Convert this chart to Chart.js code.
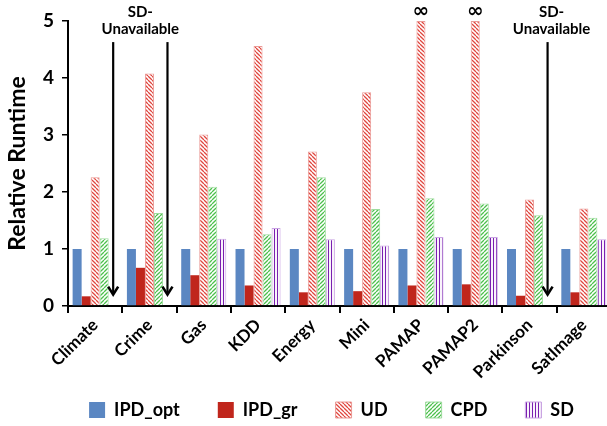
<!DOCTYPE html>
<html>
<head>
<meta charset="utf-8">
<script src="https://cdn.jsdelivr.net/npm/chart.js@4.4.0/dist/chart.umd.min.js"></script>
<style>
html,body{margin:0;padding:0;background:#fff;overflow:hidden}
</style>
</head>
<body>
<canvas id="chart" width="620" height="426"></canvas>
<script>
const categories = ["Climate","Crime","Gas","KDD","Energy","Mini","PAMAP","PAMAP2","Parkinson","SatImage"];
const ipdOpt = [1,1,1,1,1,1,1,1,1,1];
const ipdGr  = [0.17,0.67,0.54,0.36,0.24,0.26,0.36,0.38,0.18,0.24];
const ud     = [2.26,4.08,3.01,4.56,2.71,3.75,5,5,1.87,1.71];
const cpd    = [1.19,1.63,2.09,1.26,2.26,1.70,1.89,1.80,1.59,1.55];
const sd     = [null,null,1.18,1.37,1.17,1.06,1.21,1.21,null,1.17];
const yTicks = [0,1,2,3,4,5];
// UD runs that never finished -> drawn at the top with an infinity sign
const udInfinite = ["PAMAP","PAMAP2"];
// SD missing: groups of categories sharing one "SD-Unavailable" caption
const sdUnavailable = [["Climate","Crime"],["Parkinson"]];

const FONT = "Lato";

function hatch(color, kind){
    const s = kind === "v" ? 3 : 4;
    const c = document.createElement("canvas");
    c.width = s; c.height = s;
    const g = c.getContext("2d");
    g.fillStyle = "#fff";
    g.fillRect(0,0,s,s);
    g.strokeStyle = color;
    g.lineWidth = kind === "v" ? 1.1 : 1.3;
    g.beginPath();
    if(kind === "v"){
        g.moveTo(1.5,0); g.lineTo(1.5,s);
    }else{
        for(let k=-1;k<=1;k++){
            if(kind === "back"){ g.moveTo(0,k*s); g.lineTo(s,s+k*s); }
            else { g.moveTo(0,s+k*s); g.lineTo(s,k*s); }
        }
    }
    g.stroke();
    return g.createPattern(c,"repeat");
}

const udFill  = hatch("#e0463e","back");
const cpdFill = hatch("#4cc04c","fwd");
const sdFill  = hatch("#7a1fb0","v");

const LEGEND_H = 35;

const notes = {
    id: "notes",
    beforeLayout(chart){
        // keep the wide item spacing but not the tall legend box
        const lg = chart.legend;
        if(lg && !lg._wrapped){
            const fit = lg.fit;
            lg.fit = function(){ fit.call(this); this._fullH = this.height; this.height = LEGEND_H; };
            lg._wrapped = true;
        }
    },
    afterLayout(chart){
        const lg = chart.legend;
        const pad = lg.options.labels.padding;
        lg.left += 26; lg.right += 26;
        lg.top -= (pad - 10);
        lg.bottom = lg.top + lg._fullH;
    },
    afterDatasetsDraw(chart){
        const {ctx, scales:{y}} = chart;
        const udMeta = chart.getDatasetMeta(2);
        const cpdMeta = chart.getDatasetMeta(3);
        ctx.save();
        ctx.fillStyle = "#000";
        ctx.strokeStyle = "#000";
        ctx.textAlign = "center";
        ctx.textBaseline = "middle";

        ctx.font = "bold 20px 'DejaVu Sans'";
        udInfinite.forEach(name => {
            const bar = udMeta.data[categories.indexOf(name)];
            ctx.fillText("\u221e", bar.x, y.getPixelForValue(5.17));
        });

        ctx.font = "bold 15px " + FONT;
        sdUnavailable.forEach(group => {
            const xs = group.map(name => {
                const bar = cpdMeta.data[categories.indexOf(name)];
                return bar.x + bar.width;
            });
            xs.forEach(ax => {
                const top = y.getPixelForValue(4.63);
                const tip = y.getPixelForValue(0.2);
                ctx.lineWidth = 2.2;
                ctx.beginPath();
                ctx.moveTo(ax, top); ctx.lineTo(ax, tip - 1);
                ctx.stroke();
                ctx.lineWidth = 2.6;
                ctx.beginPath();
                ctx.moveTo(ax - 5, tip - 8); ctx.lineTo(ax, tip); ctx.lineTo(ax + 5, tip - 8);
                ctx.stroke();
            });
            const cx = xs.reduce((a,b)=>a+b,0)/xs.length + (xs.length === 1 ? 4 : 0);
            ctx.fillText("SD-", cx, y.getPixelForValue(5.16));
            ctx.fillText("Unavailable", cx, y.getPixelForValue(4.85));
        });
        ctx.restore();
    }
};

new Chart(document.getElementById("chart").getContext("2d"), {
    type: "bar",
    data: {
        labels: categories,
        datasets: [
            {label:"IPD_opt", data: ipdOpt, backgroundColor:"#5b87c2", borderWidth:0},
            {label:"IPD_gr",  data: ipdGr,  backgroundColor:"#c0261c", borderWidth:0},
            {label:"UD",  data: ud,  backgroundColor: udFill,  borderColor:"#eb9a96", borderWidth:1},
            {label:"CPD", data: cpd, backgroundColor: cpdFill, borderColor:"#9edc9e", borderWidth:1},
            {label:"SD",  data: sd,  backgroundColor: sdFill,  borderColor:"#c9a3e3", borderWidth:1}
        ]
    },
    options: {
        responsive: false,
        animation: false,
        categoryPercentage: 0.83,
        barPercentage: 1,
        layout: {padding: {top: 21, right: 9, left: 0, bottom: 0}},
        plugins: {
            tooltip: {enabled:false},
            legend: {
                position: "bottom",
                labels: {
                    boxWidth: 16, boxHeight: 16, padding: 38,
                    color: "#000",
                    font: {family: FONT, size: 18, weight: "bold"}
                }
            }
        },
        scales: {
            x: {
                afterFit: s => { s.height = 85; },
                border: {color:"#000", width:2},
                grid: {drawOnChartArea:false, color:"#000", lineWidth:2, tickLength:7},
                ticks: {
                    color:"#000", minRotation:45, maxRotation:45, padding:2,
                    font: {family: FONT, size: 17, weight: "bold"}
                }
            },
            y: {
                min: 0, max: 5,
                afterFit: s => { s.width = 68; },
                afterBuildTicks: s => { s.ticks = yTicks.map(v => ({value: v})); },
                border: {color:"#000", width:2},
                grid: {drawOnChartArea:false, color:"#000", lineWidth:1.5, tickLength:6},
                ticks: {
                    color:"#000", padding: 8,
                    font: {family: FONT, size: 19, weight: "bold"}
                },
                title: {
                    display: true, text: "Relative Runtime", color:"#000",
                    padding: {top: 4, bottom: 0},
                    font: {family: FONT, size: 23, weight: "bold"}
                }
            }
        }
    },
    plugins: [notes]
});
</script>
</body>
</html>
